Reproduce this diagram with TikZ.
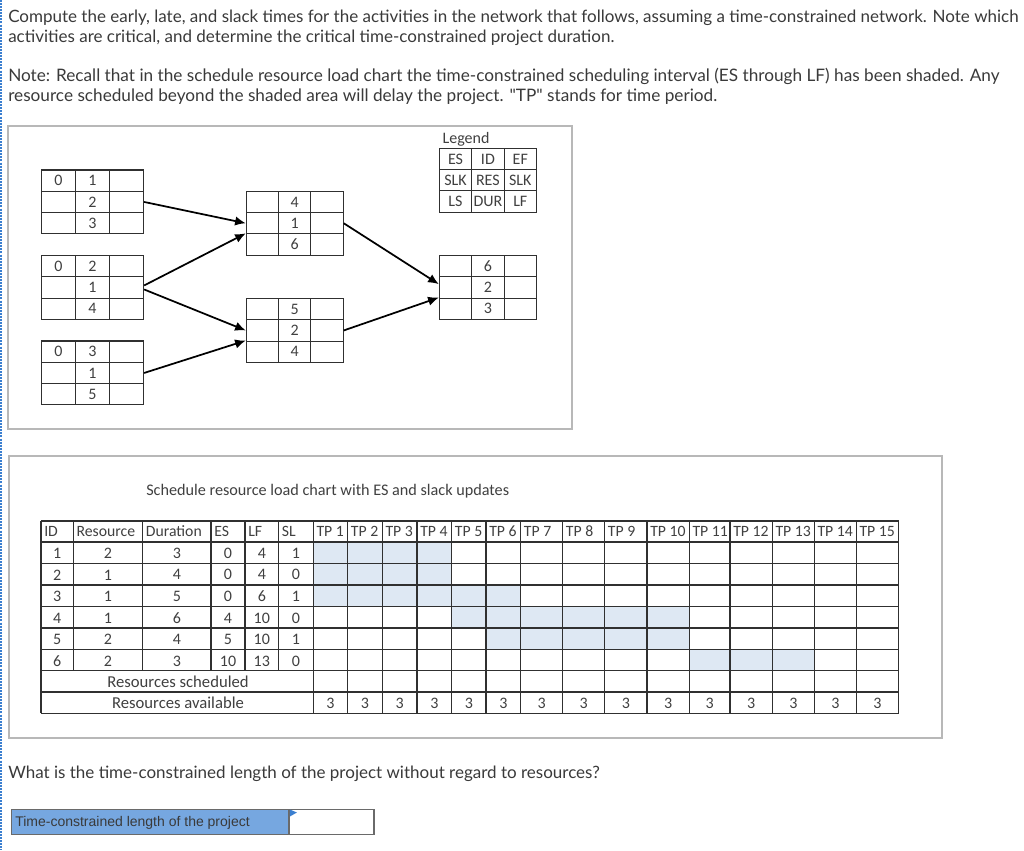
\documentclass[tikz,border=0pt]{standalone}
\usepackage{fontspec}
\newfontfamily\qfont{Lato}
\newfontfamily\calib{Carlito}
\newfontfamily\arial{Liberation Sans}
\usetikzlibrary{arrows.meta}
\definecolor{cellshade}{HTML}{DEE8F3}
\definecolor{panelline}{HTML}{B8B8B8}
\definecolor{ink}{HTML}{404040}
\definecolor{gridline}{HTML}{303030}
\definecolor{toptext}{HTML}{3A3A3A}
\definecolor{dotblue}{HTML}{3B7FD0}
\definecolor{labelblue}{HTML}{76A7E0}
\definecolor{boxgrey}{HTML}{6A6A6A}
\tikzset{
  qtext/.style={anchor=base west,inner sep=0pt,text=toptext,font=\qfont\fontsize{12.75pt}{14pt}\selectfont},
  qwide/.style={qtext,font=\qfont\fontsize{12.9pt}{14pt}\selectfont},
  ctext/.style={inner sep=0pt,text=ink,font=\calib\fontsize{12pt}{14pt}\selectfont},
  htext/.style={ctext,anchor=base west,font=\calib\fontsize{11.8pt}{14pt}\selectfont},
  wtext/.style={ctext,font=\calib\fontsize{12.5pt}{14pt}\selectfont},
  panel/.style={draw=panelline,line width=0.9pt,fill=white},
  gridl/.style={draw=gridline,line width=0.8pt},
  netcell/.style={draw=gridline,line width=0.8pt,inner sep=0pt},
  link/.style={draw=black,line width=1.3pt,-{Latex[length=8pt,width=7pt]}},
}
\def\xs{{41,73.3,142.7,211,245,278.7,313.3,347.7,382.3,417,451.7,486,520.7,562.7,604.7,647,689.3,730,772.3,814.3,856.3,898.7}}
\def\ys{{521,542,563.3,585,606.7,628,649.7,670.7,692,713.3}}
\newcommand\tcell[3]{%
  \pgfmathsetmacro\cx{0.5*(\xs[#2]+\xs[#2+1])}%
  \pgfmathsetmacro\cy{0.5*(\ys[#1]+\ys[#1+1])+0.7}%
  \node[ctext] (t-#1-#2) at (\cx,\cy) {#3};}
\newcommand\thead[2]{%
  \pgfmathsetmacro\cx{\xs[#1]+3}%
  \node[htext] (h-#1) at (\cx,536) {#2};}
\newcommand\trow[7]{%
  \tcell{#1}{0}{#2}\tcell{#1}{1}{#3}\tcell{#1}{2}{#4}\tcell{#1}{3}{#5}\tcell{#1}{4}{#6}\tcell{#1}{5}{#7}}
\newcommand\tshade[3]{%
  \pgfmathsetmacro\xa{\xs[#2]}\pgfmathsetmacro\xb{\xs[#3]}%
  \pgfmathsetmacro\ya{\ys[#1]}\pgfmathsetmacro\yb{\ys[#1+1]}%
  \fill[cellshade] (\xa,\ya) rectangle (\xb,\yb);}
% name, left, top, cell width, row height, three texts of the middle column
\newcommand\netbox[8]{%
  \foreach \cc in {1,2,3}{\foreach \rr in {1,2,3}{%
    \node[netcell,minimum width=#4*0.75pt,minimum height=#5*0.75pt] (#1-\rr\cc)
      at ({#2+(\cc-0.5)*#4},{#3+(\rr-0.5)*#5}) {};}}
  \node[ctext] (#1-t1) at (#1-12) {#6};
  \node[ctext] (#1-t2) at (#1-22) {#7};
  \node[ctext] (#1-t3) at (#1-32) {#8};
}
\begin{document}
\begin{tikzpicture}[x=0.75pt,y=-0.75pt]
\useasboundingbox (0,0) rectangle (1024,850);
\fill[white] (0,0) rectangle (1024,850);
\draw[dotblue,line width=1.5pt,dash pattern=on 1.5pt off 0.8pt] (1.2,0) -- (1.2,850);
% question text
\node[qtext] (q1) at (8,22) {Compute the early, late, and slack times for the activities in the network that follows, assuming a time-constrained network. Note which};
\node[qtext] (q2) at (8,42) {activities are critical, and determine the critical time-constrained project duration.};
\node[qwide] (q3) at (8,81) {Note: Recall that in the schedule resource load chart the time-constrained scheduling interval (ES through LF) has been shaded. Any};
\node[qwide] (q4) at (8,101) {resource scheduled beyond the shaded area will delay the project. "TP" stands for time period.};
\node[qtext] (q5) at (8,778) {What is the time-constrained length of the project without regard to resources?};
% panels
\draw[panel] (8,126) rectangle (572,429);
\draw[panel] (9,456) rectangle (942,738);
% network
\netbox{A}{41.3}{170}{34.1}{21.3}{1}{2}{3}
\node[ctext] (A-z) at (A-11) {0};
\netbox{B}{41.3}{255.5}{34.1}{21.3}{2}{1}{4}
\node[ctext] (B-z) at (B-11) {0};
\netbox{C}{41.3}{341}{34.1}{21.3}{3}{1}{5}
\node[ctext] (C-z) at (C-11) {0};
\netbox{D}{246.3}{191.3}{32.3}{21.3}{4}{1}{6}
\netbox{E}{246.3}{298.5}{32.3}{21.3}{5}{2}{4}
\netbox{F}{439.3}{255.5}{32.4}{21.3}{6}{2}{3}
\netbox{L}{439.3}{148.5}{32.4}{21.2}{ID}{RES}{DUR}
\node[ctext] (L-a) at (L-11) {ES};
\node[ctext] (L-b) at (L-13) {EF};
\node[ctext] (L-c) at (L-21) {SLK};
\node[ctext] (L-d) at (L-23) {SLK};
\node[ctext] (L-e) at (L-31) {LS};
\node[ctext] (L-f) at (L-33) {LF};
\node[ctext] (L-title) at (466,139) {Legend};
% connectors
\draw[link] (A-23.east) -- (D-21.west);
\draw[link] ([yshift=1.5pt]B-23.east) -- (D-31.north west);
\draw[link] ([yshift=-1.5pt]B-23.east) -- (E-21.west);
\draw[link] (C-23.east) -- (E-31.north west);
\draw[link] (D-23.east) -- ([yshift=2.5pt]F-21.west);
\draw[link] (E-23.east) -- (F-31.north west);
% schedule table
\node[ctext,anchor=base west,font=\calib\fontsize{12.15pt}{14pt}\selectfont] (stitle) at (146,495) {Schedule resource load chart with ES and slack updates};
\tshade{1}{6}{10}
\tshade{2}{6}{10}
\tshade{3}{6}{12}
\tshade{4}{10}{16}
\tshade{5}{11}{16}
\tshade{6}{16}{19}
\foreach \yy in {0,...,9}{
  \pgfmathsetmacro\ya{\ys[\yy]}
  \draw[gridl] (41,\ya) -- (898.7,\ya);}
\foreach \cc in {0,6,7,...,21}{
  \pgfmathsetmacro\xa{\xs[\cc]}
  \draw[gridl] (\xa,521) -- (\xa,713.3);}
\foreach \cc in {1,...,5}{
  \pgfmathsetmacro\xa{\xs[\cc]}
  \draw[gridl] (\xa,521) -- (\xa,670.7);}
\thead{0}{ID}\thead{1}{Resource}\thead{2}{Duration}\thead{3}{ES}\thead{4}{LF}\thead{5}{SL}
\thead{6}{TP 1}\thead{7}{TP 2}\thead{8}{TP 3}\thead{9}{TP 4}\thead{10}{TP 5}
\thead{11}{TP 6}\thead{12}{TP 7}\thead{13}{TP 8}\thead{14}{TP 9}\thead{15}{TP 10}
\thead{16}{TP 11}\thead{17}{TP 12}\thead{18}{TP 13}\thead{19}{TP 14}\thead{20}{TP 15}
\trow{1}{1}{2}{3}{0}{4}{1}
\trow{2}{2}{1}{4}{0}{4}{0}
\trow{3}{3}{1}{5}{0}{6}{1}
\trow{4}{4}{1}{6}{4}{10}{0}
\trow{5}{5}{2}{4}{5}{10}{1}
\trow{6}{6}{2}{3}{10}{13}{0}
\node[wtext] (rs) at (178,682) {Resources scheduled};
\node[wtext] (ra) at (178,703) {Resources available};
\foreach \cc in {6,...,20}{\tcell{8}{\cc}{3}}
% answer box
\node[draw=boxgrey,line width=0.9pt,fill=labelblue,minimum width=277*0.75pt,minimum height=25*0.75pt,inner sep=0pt] (lbl) at (149.8,821.6) {};
\node[inner sep=0pt,anchor=base west,text=toptext,font=\arial\fontsize{10.5pt}{12pt}\selectfont] (lbltext) at (15,826) {Time-constrained length of the project};
\node[draw=boxgrey,line width=0.9pt,fill=white,minimum width=84.5*0.75pt,minimum height=25*0.75pt,inner sep=0pt,anchor=west] (inp) at (lbl.east) {};
\fill[dotblue] (inp.north west) ++(1,1) -- ++(7,3) -- ++(-7,4) -- cycle;
\end{tikzpicture}
\end{document}
